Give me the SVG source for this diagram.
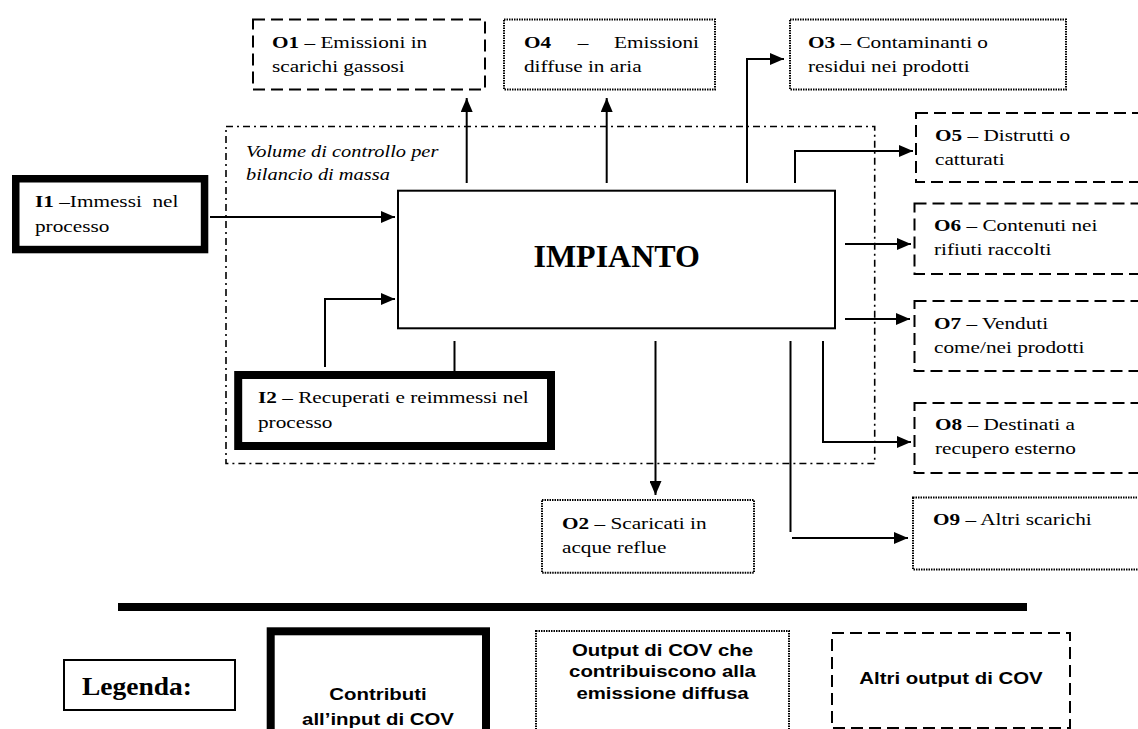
<svg xmlns="http://www.w3.org/2000/svg" width="1138" height="729" viewBox="0 0 1138 729">
<style>
.t{font-family:"Liberation Serif","Times New Roman",serif;font-size:17px;fill:#000}
.b{font-weight:bold}
.it{font-style:italic}
.s{font-family:"Liberation Sans",Arial,sans-serif;font-size:17px;font-weight:bold;fill:#000}
.dash{fill:none;stroke:#000;stroke-width:2;stroke-dasharray:12 6}
.dot{fill:none;stroke:#000;stroke-width:2;stroke-dasharray:1.5 1}
.thick{fill:none;stroke:#000;stroke-width:8}
.solid{fill:none;stroke:#000;stroke-width:2}
.cv{fill:none;stroke:#000;stroke-width:1.6;stroke-dasharray:7 4 2 4}
.c{fill:none;stroke:#000;stroke-width:2}
.a{marker-end:url(#ah)}
</style>
<defs>
<marker id="ah" markerWidth="14" markerHeight="12" refX="14" refY="6" orient="auto" markerUnits="userSpaceOnUse">
<path d="M0,0 L14,6 L0,12 z" fill="#000"/>
</marker>
</defs>
<rect width="1138" height="729" fill="#fff"/>

<g id="control-volume">
<rect class="cv" x="226" y="126.5" width="648.7" height="337"/>
<text class="t it" transform="translate(246 156.7) scale(1.2 1)"><tspan x="0" y="0">Volume di controllo per</tspan><tspan x="0" y="23.5">bilancio di massa</tspan></text>
</g>

<g id="impianto">
<rect class="solid" x="398" y="190.7" width="437" height="137.6"/>
<text x="616.7" y="267" text-anchor="middle" style="font-family:'Liberation Serif','Times New Roman',serif;font-size:32px;font-weight:bold">IMPIANTO</text>
</g>

<g id="I1">
<rect class="thick" x="15.75" y="178.75" width="188.8" height="70.8" style="stroke-width:7.5"/>
<text class="t" xml:space="preserve" transform="translate(35 207.3) scale(1.25 1)"><tspan x="0" y="0"><tspan class="b">I1</tspan> –Immessi  nel</tspan><tspan x="0" y="24.5">processo</tspan></text>
</g>

<g id="I2">
<rect class="thick" x="238.2" y="375" width="312.8" height="71"/>
<text class="t" transform="translate(258 403.3) scale(1.25 1)"><tspan x="0" y="0"><tspan class="b">I2</tspan> – Recuperati e reimmessi nel</tspan><tspan x="0" y="24.5">processo</tspan></text>
</g>

<g id="O1">
<rect class="dash" x="253" y="19.5" width="232" height="70"/>
<text class="t" transform="translate(272 47.5) scale(1.25 1)"><tspan x="0" y="0"><tspan class="b">O1</tspan> – Emissioni in</tspan><tspan x="0" y="24.5">scarichi gassosi</tspan></text>
</g>

<g id="O4">
<rect class="dot" x="504" y="19.5" width="211" height="70"/>
<text class="t" transform="translate(524 47.5) scale(1.25 1)"><tspan x="0" y="0" class="b">O4</tspan><tspan x="43" y="0">–</tspan><tspan x="72" y="0">Emissioni</tspan><tspan x="0" y="24.5">diffuse in aria</tspan></text>
</g>

<g id="O3">
<rect class="dot" x="790" y="19.5" width="276" height="70"/>
<text class="t" transform="translate(808 47.5) scale(1.25 1)"><tspan x="0" y="0"><tspan class="b">O3</tspan> – Contaminanti o</tspan><tspan x="0" y="24.5">residui nei prodotti</tspan></text>
</g>

<g id="O5">
<rect class="dash" x="916" y="113" width="240" height="69"/>
<text class="t" transform="translate(935 140.5) scale(1.25 1)"><tspan x="0" y="0"><tspan class="b">O5</tspan> – Distrutti o</tspan><tspan x="0" y="24.5">catturati</tspan></text>
</g>

<g id="O6">
<rect class="dash" x="914.5" y="203.5" width="240" height="70.5"/>
<text class="t" transform="translate(934 231) scale(1.25 1)"><tspan x="0" y="0"><tspan class="b">O6</tspan> – Contenuti nei</tspan><tspan x="0" y="24.5">rifiuti raccolti</tspan></text>
</g>

<g id="O7">
<rect class="dash" x="914.5" y="301" width="240" height="70"/>
<text class="t" transform="translate(934 328.5) scale(1.25 1)"><tspan x="0" y="0"><tspan class="b">O7</tspan> – Venduti</tspan><tspan x="0" y="24.5">come/nei prodotti</tspan></text>
</g>

<g id="O8">
<rect class="dash" x="914.5" y="403" width="240" height="70"/>
<text class="t" transform="translate(935 430) scale(1.25 1)"><tspan x="0" y="0"><tspan class="b">O8</tspan> – Destinati a</tspan><tspan x="0" y="24.5">recupero esterno</tspan></text>
</g>

<g id="O9">
<rect class="dot" x="913" y="497.5" width="240" height="72"/>
<text class="t" transform="translate(933 525) scale(1.25 1)"><tspan class="b">O9</tspan> – Altri scarichi</text>
</g>

<g id="O2">
<rect class="dot" x="542" y="500" width="212" height="72.7"/>
<text class="t" transform="translate(562 529) scale(1.25 1)"><tspan x="0" y="0"><tspan class="b">O2</tspan> – Scaricati in</tspan><tspan x="0" y="24.5">acque reflue</tspan></text>
</g>

<g id="connectors">
<path class="c a" d="M210,217 H395"/>
<path class="c a" d="M325,367 V299 H395"/>
<path class="c" d="M454.5,341 V371"/>
<path class="c a" d="M466.7,183 V98"/>
<path class="c a" d="M606.7,183 V98"/>
<path class="c a" d="M747,183 V59 H784"/>
<path class="c a" d="M795,183 V151 H913"/>
<path class="c a" d="M845,244 H911"/>
<path class="c a" d="M845,319 H910"/>
<path class="c a" d="M823,341 V442 H911"/>
<path class="c a" d="M655.5,341 V495"/>
<path class="c" d="M790.5,341 V532"/>
<path class="c a" d="M792,538 H908"/>
</g>

<g id="legend">
<line x1="118" y1="607" x2="1027" y2="607" stroke="#000" stroke-width="8"/>
<g id="legend-title">
<rect class="solid" x="64" y="660" width="171" height="50"/>
<text class="t b" style="font-size:25px" transform="translate(82 694.5) scale(1.1 1)">Legenda:</text>
</g>
<g id="legend-input">
<rect class="thick" x="270.7" y="631.3" width="215.3" height="120"/>
<text class="s" text-anchor="middle" transform="translate(378 700) scale(1.2 1)"><tspan x="0" y="0">Contributi</tspan><tspan x="0" y="25">all’input di COV</tspan></text>
</g>
<g id="legend-diffuse">
<rect class="dot" x="536" y="631" width="253" height="120"/>
<text class="s" text-anchor="middle" transform="translate(662.5 656) scale(1.2 1)"><tspan x="0" y="0">Output di COV che</tspan><tspan x="0" y="21.5">contribuiscono alla</tspan><tspan x="0" y="43">emissione diffusa</tspan></text>
</g>
<g id="legend-other">
<rect class="dash" x="832" y="633" width="238" height="95"/>
<text class="s" text-anchor="middle" transform="translate(951 684) scale(1.2 1)">Altri output di COV</text>
</g>
</g>
</svg>
